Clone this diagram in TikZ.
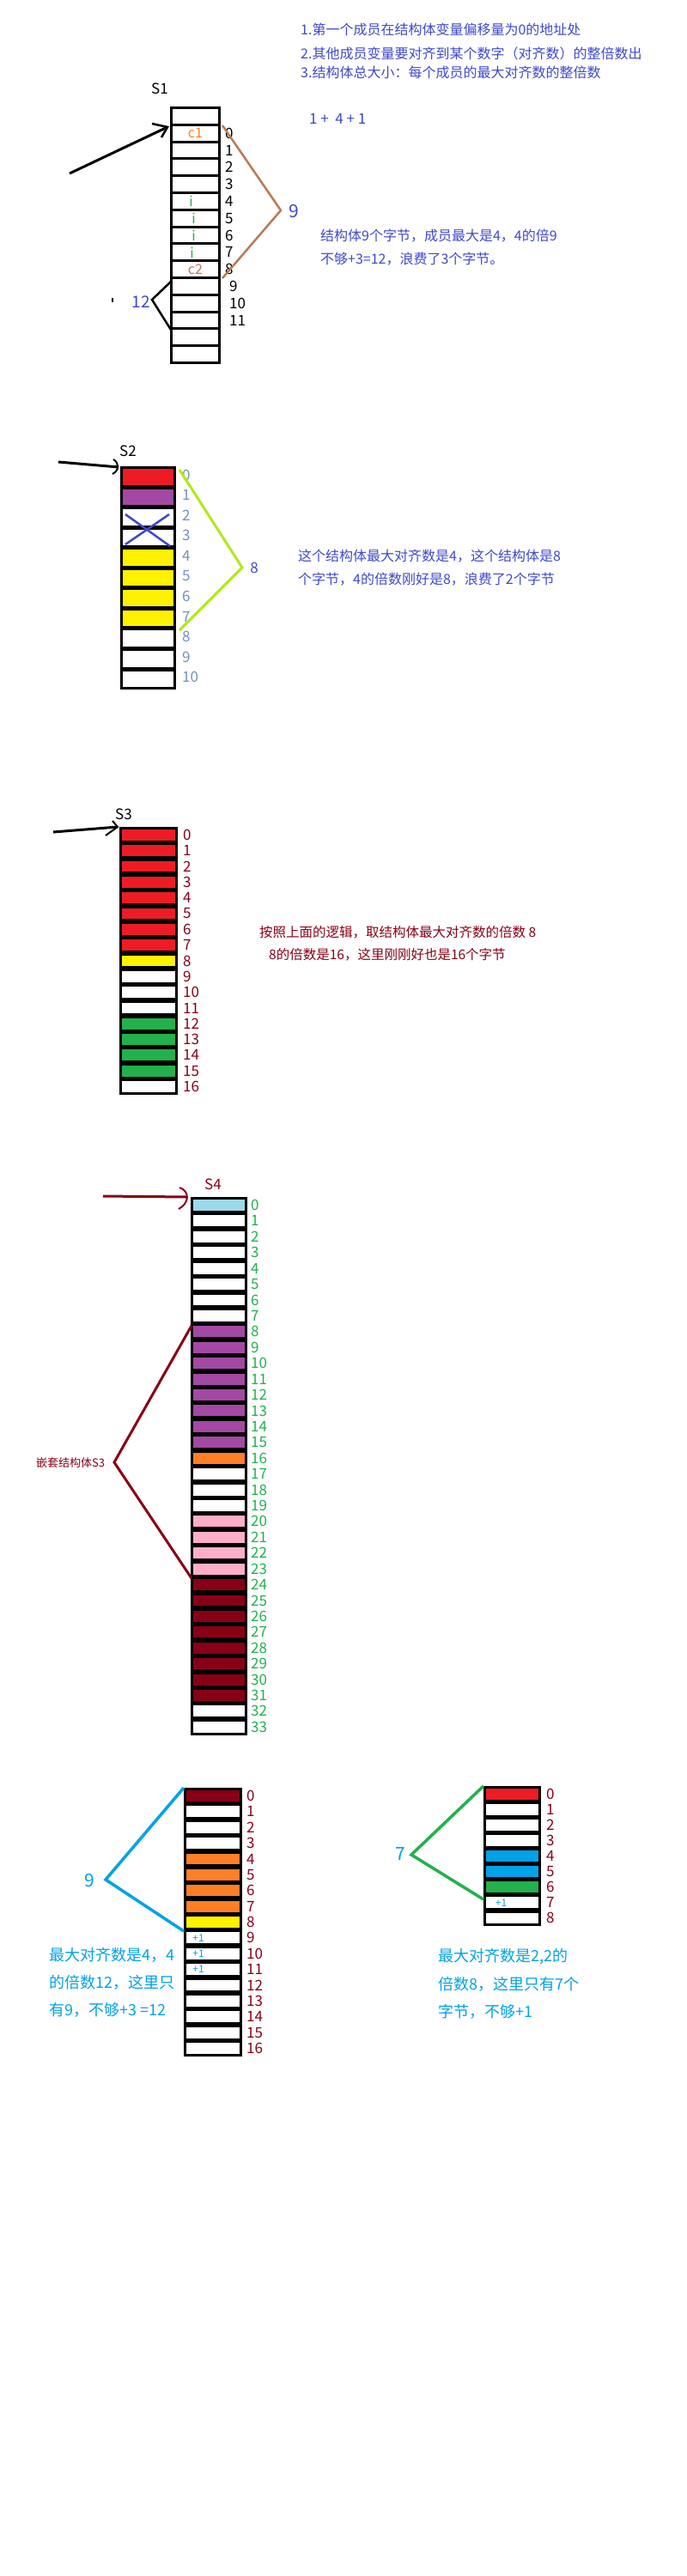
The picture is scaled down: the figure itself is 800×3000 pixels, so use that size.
\documentclass[tikz,border=0pt]{standalone}
\usepackage{fontspec}
\setmainfont{Noto Sans CJK SC}
\definecolor{pindigo}{HTML}{3F48CC}
\definecolor{pred}{HTML}{ED1C24}
\definecolor{pdark}{HTML}{880015}
\definecolor{porange}{HTML}{FF7F27}
\definecolor{pyellow}{HTML}{FFF200}
\definecolor{pgreen}{HTML}{22B14C}
\definecolor{pturq}{HTML}{00A2E8}
\definecolor{ppurple}{HTML}{A349A4}
\definecolor{pbrown}{HTML}{B97A57}
\definecolor{prose}{HTML}{FFAEC9}
\definecolor{plime}{HTML}{B5E61D}
\definecolor{plturq}{HTML}{99D9EA}
\definecolor{pbluegray}{HTML}{7092BE}
\newcommand{\fsz}[1]{\fontsize{#1}{#1}\selectfont}
% #1 name, #2 x1, #3 x2, #4 top, #5 pitch, #6 gap, #7 n, #8 colours
\newcommand{\drawmem}[8]{%
  \pgfmathsetmacro\mbot{#4+6+#7*#5-#6}%
  \fill[black] (#2,#4) rectangle (#3,\mbot);
  \foreach \cc [count=\k from 0] in {#8} {%
    \pgfmathsetmacro\ct{#4+3+\k*#5}%
    \pgfmathsetmacro\cb{\ct+#5-#6}%
    \pgfmathsetmacro\cm{(\ct+\cb)/2}%
    \fill[\cc] (#2+3,\ct) rectangle (#3-3,\cb);
    \coordinate (#1-\k) at ({(#2+#3)/2},\cm);
    \coordinate (#1-e\k) at (#3,\cm);
    \coordinate (#1-w\k) at (#2,\cm);
  }%
}
\tikzset{
  tx/.style={inner sep=0pt, anchor=west, font=\fsz{16}},
  lab/.style={inner sep=0pt, anchor=west, font=\fsz{17}},
  celltx/.style={inner sep=0pt, font=\fsz{16}},
  plus/.style={inner sep=0pt, font=\fsz{12}, text=pturq},
  bracket/.style={line width=3pt, line join=miter},
}
\begin{document}
\begin{tikzpicture}[x=1pt,y=-1pt]
\useasboundingbox (0,0) rectangle (800,3000);
\fill[white] (0,0) rectangle (800,3000);

% ================= S1 =================
\node[tx, text=pindigo] (h1) at (350,34) {1.第一个成员在结构体变量偏移量为0的地址处};
\node[tx, text=pindigo] (h2) at (350,62) {2.其他成员变量要对齐到某个数字（对齐数）的整倍数出};
\node[tx, text=pindigo] (h3) at (350,84) {3.结构体总大小：每个成员的最大对齐数的整倍数};
\node[inner sep=0pt, font=\fsz{17}] (t1) at (186,103) {S1};
\node[tx, text=pindigo, font=\fsz{17}] (sum1) at (360,138) {1 +\ \ 4 + 1};
\drawmem{sa}{198}{257}{124}{19.8}{3}{15}{white,white,white,white,white,white,white,white,white,white,white,white,white,white,white}
\foreach \n [evaluate=\n as \r using int(\n+1)] in {0,...,8}
  \node[lab] (sa-l\n) at ([xshift=5pt]sa-e\r) {\n};
\foreach \n [evaluate=\n as \r using int(\n+1)] in {9,10,11}
  \node[lab] (sa-l\n) at ([xshift=10pt]sa-e\r) {\n};
\node[celltx, text=porange] (c1) at (sa-1) {c1};
\node[celltx, text=pgreen] (i1) at ([xshift=-5pt]sa-5) {i};
\node[celltx, text=pgreen] (i2) at ([xshift=-2pt]sa-6) {i};
\node[celltx, text=pgreen] (i3) at ([xshift=-2pt]sa-7) {i};
\node[celltx, text=pgreen] (i4) at ([xshift=-4pt]sa-8) {i};
\node[celltx, text=pbrown] (c2) at (sa-9) {c2};
\coordinate (a1s) at (81,202);
\coordinate (a1t) at (195,148);
\coordinate (a1h1) at (177,144);
\coordinate (a1h2) at (188,160);
\draw[line width=3pt] (a1s) -- (a1t);
\draw[line width=2.5pt] (a1h1) -- (a1t) -- (a1h2);
\coordinate (b1a) at (259,146);
\coordinate (b1m) at (327,245);
\coordinate (b1b) at (259,324);
\draw[bracket, pbrown, line width=2.5pt] (b1a) -- (b1m) -- (b1b);
\node[inner sep=0pt, font=\fsz{21}, text=pindigo] (n9a) at (342,246) {9};
\node[tx, text=pindigo] (s1l1) at (373,275) {结构体9个字节，成员最大是4，4的倍9};
\node[tx, text=pindigo] (s1l2) at (373,302) {不够+3=12，浪费了3个字节。};
\coordinate (b2a) at (199,328);
\coordinate (b2m) at (177,349);
\coordinate (b2b) at (199,384);
\draw[bracket, line width=2.5pt] (b2a) -- (b2m) -- (b2b);
\node[inner sep=0pt, font=\fsz{19}, text=pindigo] (n12) at (164,352) {12};
\fill (130,347) rectangle (132,352);

% ================= S2 =================
\node[inner sep=0pt, font=\fsz{17}] (t2) at (149,525) {S2};
\drawmem{sb}{140}{205}{543}{23.55}{5}{11}{pred,ppurple,white,white,pyellow,pyellow,pyellow,pyellow,white,white,white}
\foreach \n in {0,...,10}
  \node[lab, text=pbluegray] (sb-l\n) at ([xshift=7pt,yshift=2pt]sb-e\n) {\n};
\coordinate (a2s) at (68,538);
\coordinate (a2t) at (138,544);
\draw[line width=3pt] (a2s) -- (a2t);
\draw[line width=2pt] (132,535) .. controls (139,539) and (139,548) .. (131,552);
\coordinate (x1a) at (146,599);
\coordinate (x1b) at (198,636);
\coordinate (x2a) at (197,599);
\coordinate (x2b) at (146,634);
\draw[pindigo, line width=2.5pt] (x1a) -- (x1b) (x2a) -- (x2b);
\coordinate (b3a) at (209,547);
\coordinate (b3m) at (282,661);
\coordinate (b3b) at (209,734);
\draw[bracket, plime] (b3a) -- (b3m) -- (b3b);
\node[inner sep=0pt, font=\fsz{17}, text=pindigo] (n8) at (296,661) {8};
\node[tx, text=pindigo] (s2l1) at (347,648) {这个结构体最大对齐数是4，这个结构体是8};
\node[tx, text=pindigo] (s2l2) at (347,675) {个字节，4的倍数刚好是8，浪费了2个字节};

% ================= S3 =================
\node[inner sep=0pt, font=\fsz{17}] (t3) at (144,948) {S3};
\drawmem{sc}{139}{207}{963}{18.32}{5.5}{17}{pred,pred,pred,pred,pred,pred,pred,pred,pyellow,white,white,white,pgreen,pgreen,pgreen,pgreen,white}
\foreach \n in {0,...,16}
  \node[lab, text=pdark] (sc-l\n) at ([xshift=6pt]sc-e\n) {\n};
\coordinate (a3s) at (62,969);
\coordinate (a3t) at (137,963);
\draw[line width=3pt] (a3s) -- (a3t);
\draw[line width=2pt] (131,956) -- (a3t) -- (123,973);
\node[tx, text=pdark, font=\fsz{15.5}] (s3l1) at (302,1086) {按照上面的逻辑，取结构体最大对齐数的倍数 8};
\node[tx, text=pdark, font=\fsz{15.5}] (s3l2) at (313,1112) {8的倍数是16，这里刚刚好也是16个字节};

% ================= S4 =================
\node[inner sep=0pt, font=\fsz{17}, text=pdark] (t4) at (248,1379) {S4};
\drawmem{sd}{222}{288}{1394}{18.42}{5.5}{34}{plturq,white,white,white,white,white,white,white,ppurple,ppurple,ppurple,ppurple,ppurple,ppurple,ppurple,ppurple,porange,white,white,white,prose,prose,prose,prose,pdark,pdark,pdark,pdark,pdark,pdark,pdark,pdark,white,white}
\foreach \n in {0,...,33}
  \node[lab, text=pgreen] (sd-l\n) at ([xshift=4pt]sd-e\n) {\n};
\coordinate (a4s) at (120,1393);
\coordinate (a4t) at (218,1394);
\draw[pdark, line width=3pt] (a4s) -- (a4t);
\draw[pdark, line width=2pt] (209,1383) .. controls (221,1387) and (221,1401) .. (208,1408);
\coordinate (b4a) at (223,1544);
\coordinate (b4m) at (133,1703);
\coordinate (b4b) at (223,1838);
\draw[bracket, pdark] (b4a) -- (b4m) -- (b4b);
\node[inner sep=0pt, font=\fsz{13}, text=pdark] (nest) at (82,1704) {嵌套结构体S3};

% ================= bottom left =================
\drawmem{se}{214}{282}{2082}{18.38}{5.5}{17}{pdark,white,white,white,porange,porange,porange,porange,pyellow,white,white,white,white,white,white,white,white}
\foreach \n in {0,...,16}
  \node[lab, text=pdark] (se-l\n) at ([xshift=5pt]se-e\n) {\n};
\foreach \n in {9,10,11}
  \node[plus] (se-p\n) at ([xshift=-17pt]se-\n) {+1};
\coordinate (b5a) at (214,2082);
\coordinate (b5m) at (123,2189);
\coordinate (b5b) at (214,2249);
\draw[bracket, pturq, line width=3.5pt] (b5a) -- (b5m) -- (b5b);
\node[inner sep=0pt, font=\fsz{21}, text=pturq] (n9b) at (104,2190) {9};
\node[tx, text=pturq, font=\fsz{18}] (bl1) at (57,2277) {最大对齐数是4，4};
\node[tx, text=pturq, font=\fsz{18}] (bl2) at (57,2309) {的倍数12，这里只};
\node[tx, text=pturq, font=\fsz{18}] (bl3) at (57,2341) {有9，不够+3 =12};

% ================= bottom right =================
\drawmem{sf}{563}{630}{2080}{18.06}{5.5}{9}{pred,white,white,white,pturq,pturq,pgreen,white,white}
\foreach \n in {0,...,8}
  \node[lab, text=pdark] (sf-l\n) at ([xshift=6pt]sf-e\n) {\n};
\node[plus] (sf-p7) at ([xshift=-13pt]sf-7) {+1};
\coordinate (b6a) at (563,2080);
\coordinate (b6m) at (479,2160);
\coordinate (b6b) at (563,2212);
\draw[bracket, pgreen, line width=3.5pt] (b6a) -- (b6m) -- (b6b);
\node[inner sep=0pt, font=\fsz{21}, text=pturq] (n7) at (466,2159) {7};
\node[tx, text=pturq, font=\fsz{18}] (br1) at (510,2279) {最大对齐数是2,2的};
\node[tx, text=pturq, font=\fsz{18}] (br2) at (510,2311) {倍数8，这里只有7个};
\node[tx, text=pturq, font=\fsz{18}] (br3) at (510,2343) {字节，不够+1};
\end{tikzpicture}
\end{document}
